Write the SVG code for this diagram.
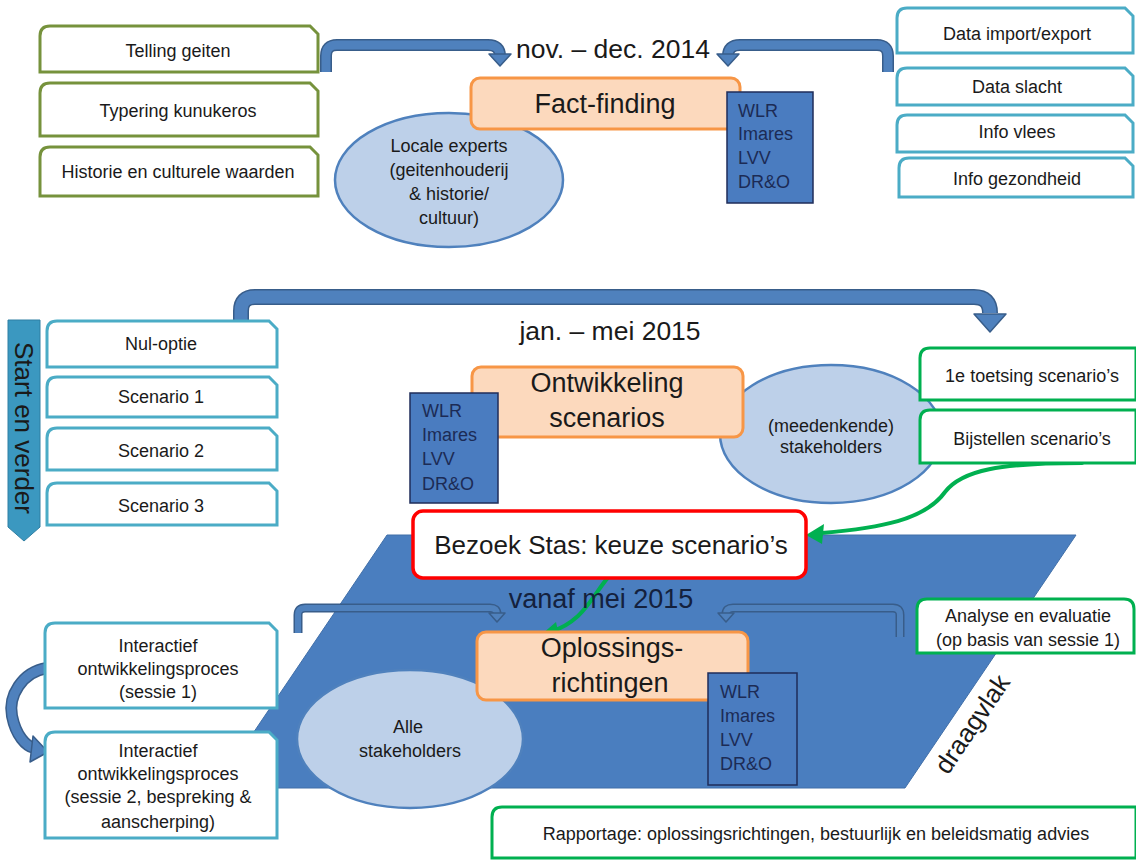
<svg xmlns="http://www.w3.org/2000/svg" width="1136" height="860" viewBox="0 0 1136 860">
<defs>
<style>
text{font-family:"Liberation Sans",Arial,sans-serif;fill:#1a1a1a;}
.s{font-size:18px;text-anchor:middle;}
.big{font-size:27px;text-anchor:middle;}
.date{font-size:26.5px;text-anchor:middle;}
.wlr{font-size:18px;fill:#1c2b55;}
.olive{fill:#fff;stroke:#76923c;stroke-width:3;}
.teal{fill:#fff;stroke:#4bacc6;stroke-width:3;}
.green{fill:#fff;stroke:#00b050;stroke-width:3;}
.orange{fill:#fcd9bd;stroke:#f79646;stroke-width:3;}
.wbox{fill:#4a7cc0;stroke:#1f2d5a;stroke-width:1.5;}
.ell{fill:#bdd0e9;stroke:#4f81bd;stroke-width:2.5;}
.aout{fill:none;stroke:#385d8a;stroke-linejoin:round;}
.ain{fill:none;stroke:#4f81bd;stroke-linejoin:round;}
.head{fill:#4f81bd;stroke:#385d8a;stroke-width:1.5;stroke-linejoin:round;}
.garr{fill:none;stroke:#00b050;stroke-width:4;stroke-linecap:round;}
.ghead{fill:#00b050;}
</style>
</defs>
<rect width="1136" height="860" fill="#ffffff"/>

<g id="draagvlak">
<polygon points="387,535 1076,535 905,788 216,788" fill="#4a7ebf" stroke="#416fa8" stroke-width="1"/>
<text transform="translate(972,724) rotate(-56)" style="font-size:26px;text-anchor:middle;" y="9">draagvlak</text>
</g>

<g id="connectors">
<!-- top-left bent arrow -->
<path class="aout" stroke-width="12" d="M326 72 V56 Q326 45 337 45 H488 Q500 45 500 56"/>
<path class="ain" stroke-width="9" d="M326 72 V56 Q326 45 337 45 H488 Q500 45 500 56"/>
<polygon class="head" points="489,54 511,54 500,66"/>
<!-- top-right bent arrow -->
<path class="aout" stroke-width="12" d="M888 72 V56 Q888 45 877 45 H740 Q728 45 728 56"/>
<path class="ain" stroke-width="9" d="M888 72 V56 Q888 45 877 45 H740 Q728 45 728 56"/>
<polygon class="head" points="717,54 739,54 728,66"/>
<!-- middle big bent arrow -->
<path class="aout" stroke-width="16" d="M241 322 V311 Q241 297 255 297 H974 Q990 297 990 313"/>
<path class="ain" stroke-width="13" d="M241 322 V311 Q241 297 255 297 H974 Q990 297 990 313"/>
<polygon class="head" points="974,314 1006,314 990,332"/>
<!-- brackets in draagvlak -->
<path class="aout" stroke-width="9" d="M298 633 V615 Q298 608 305 608 H490 Q497 608 497 614"/>
<path class="ain" stroke-width="6" stroke="#4a7ebf" d="M298 633 V615 Q298 608 305 608 H490 Q497 608 497 614"/>
<polygon class="head" fill="#4a7ebf" points="489,613 505,613 497,622"/>
<path class="aout" stroke-width="9" d="M900 637 V615 Q900 608 893 608 H733 Q726 608 726 614"/>
<path class="ain" stroke-width="6" d="M900 637 V615 Q900 608 893 608 H733 Q726 608 726 614"/>
<polygon class="head" points="718,613 734,613 726,622"/>
<!-- session arrow -->
<path class="aout" stroke-width="12" d="M47 668 C22 672 8 696 12 716 C16 736 26 746 34 748"/>
<path class="ain" stroke-width="9" d="M47 668 C22 672 8 696 12 716 C16 736 26 746 34 748"/>
<polygon class="head" points="33,736 48,752 30,762"/>
<!-- green arrows -->
<path class="garr" d="M1082 463 C1000 463 962 470 945 492 C925 520 880 528 822 533"/>
<polygon class="ghead" points="806,535 824,524 822,544"/>
<path class="garr" d="M612 573 C600 585 592 603 578 616 C568 625 560 629 552 631"/>
<polygon class="ghead" points="542,634 556,622 560,640"/>
</g>

<g id="start-en-verder">
<polygon points="8,320 40,320 40,527 24,541 8,527" fill="#3b98c0" stroke="#2f7fa3" stroke-width="1"/>
<text transform="translate(24,428) rotate(90)" style="font-size:26px;text-anchor:middle;" y="9">Start en verder</text>
</g>

<g id="telling-geiten"><path class="olive" d="M40 72 V36 Q40 26 50 26 H310 L318 34 V72 Z"/><text class="s" x="178" y="57">Telling geiten</text></g>
<g id="typering"><path class="olive" d="M40 136 V93 Q40 83 50 83 H310 L318 91 V136 Z"/><text class="s" x="178" y="117">Typering kunukeros</text></g>
<g id="historie"><path class="olive" d="M40 196 V157 Q40 147 50 147 H310 L318 155 V196 Z"/><text class="s" x="178" y="178">Historie en culturele waarden</text></g>

<g id="data-import"><path class="teal" d="M897 53 V18 Q897 8 907 8 H1125 L1133 16 V53 Z"/><text class="s" x="1017" y="40">Data import/export</text></g>
<g id="data-slacht"><path class="teal" d="M897 105 V78 Q897 68 907 68 H1125 L1133 76 V105 Z"/><text class="s" x="1017" y="93">Data slacht</text></g>
<g id="info-vlees"><path class="teal" d="M897 152 V125 Q897 115 907 115 H1125 L1133 123 V152 Z"/><text class="s" x="1017" y="138">Info vlees</text></g>
<g id="info-gezondheid"><path class="teal" d="M899 197 V168 Q899 158 909 158 H1125 L1133 166 V197 Z"/><text class="s" x="1017" y="185">Info gezondheid</text></g>

<g id="locale-experts">
<ellipse class="ell" cx="449" cy="180" rx="114" ry="67"/>
<text class="s" x="449" y="152">Locale experts</text>
<text class="s" x="449" y="176">(geitenhouderij</text>
<text class="s" x="449" y="200">&amp; historie/</text>
<text class="s" x="449" y="224">cultuur)</text>
</g>
<g id="nov-dec"><text class="date" x="613" y="58">nov. – dec. 2014</text></g>
<g id="fact-finding"><rect class="orange" x="471" y="78" width="269" height="51" rx="9"/><text class="big" x="605" y="113">Fact-finding</text></g>
<g id="wlr-1">
<rect class="wbox" x="727" y="92" width="86" height="111"/>
<text class="wlr" x="738" y="117">WLR</text><text class="wlr" x="738" y="140">Imares</text><text class="wlr" x="738" y="164">LVV</text><text class="wlr" x="738" y="188">DR&amp;O</text>
</g>

<g id="nul-optie"><path class="teal" d="M47 367 V331 Q47 321 57 321 H269 L277 329 V367 Z"/><text class="s" x="161" y="350">Nul-optie</text></g>
<g id="scenario-1"><path class="teal" d="M47 417 V387 Q47 377 57 377 H269 L277 385 V417 Z"/><text class="s" x="161" y="403">Scenario 1</text></g>
<g id="scenario-2"><path class="teal" stroke-width="2" d="M47 470 V438 Q47 428 57 428 H269 L277 436 V470 Z"/><text class="s" x="161" y="457">Scenario 2</text></g>
<g id="scenario-3"><path class="teal" stroke="#9fd3e0" stroke-width="1.5" d="M47 525 V493 Q47 483 57 483 H269 L277 491 V525 Z"/><text class="s" x="161" y="512">Scenario 3</text></g>

<g id="jan-mei"><text class="date" x="610" y="340">jan. – mei 2015</text></g>
<g id="meedenkende">
<ellipse class="ell" cx="831" cy="434" rx="111" ry="69"/>
<text class="s" x="831" y="432">(meedenkende)</text>
<text class="s" x="831" y="453">stakeholders</text>
</g>
<g id="ontwikkeling"><rect class="orange" x="472" y="367" width="271" height="70" rx="9"/><text class="big" x="607" y="392">Ontwikkeling</text><text class="big" x="607" y="427">scenarios</text></g>
<g id="wlr-2">
<rect class="wbox" x="410" y="393" width="88" height="110"/>
<text class="wlr" x="422" y="417">WLR</text><text class="wlr" x="422" y="441">Imares</text><text class="wlr" x="422" y="465">LVV</text><text class="wlr" x="422" y="490">DR&amp;O</text>
</g>
<g id="toetsing"><path class="green" d="M920 400 V358 Q920 348 930 348 H1136 V400 Z"/><text class="s" x="1032" y="382">1e toetsing scenario’s</text></g>
<g id="bijstellen"><path class="green" d="M920 463 V420 Q920 410 930 410 H1136 V463 Z"/><text class="s" x="1032" y="445">Bijstellen scenario’s</text></g>

<g id="bezoek-stas"><rect x="413" y="511" width="393" height="67" rx="10" fill="#fff" stroke="#ff0000" stroke-width="3.5"/><text style="font-size:26px;text-anchor:middle;" x="611" y="554">Bezoek Stas: keuze scenario’s</text></g>

<g id="vanaf-mei"><text style="font-size:27px;text-anchor:middle;fill:#14213d;" x="601" y="608">vanaf mei 2015</text></g>
<g id="alle-stakeholders">
<ellipse class="ell" fill="#c9daf0" cx="410" cy="739" rx="113" ry="69"/>
<text class="s" x="408" y="733">Alle</text>
<text class="s" x="410" y="757">stakeholders</text>
</g>
<g id="oplossingsrichtingen"><rect class="orange" x="477" y="632" width="271" height="68" rx="9"/><text class="big" x="612" y="657">Oplossings-</text><text class="big" x="610" y="692">richtingen</text></g>
<g id="wlr-3">
<rect class="wbox" x="708" y="673" width="89" height="112"/>
<text class="wlr" x="720" y="698">WLR</text><text class="wlr" x="720" y="722">Imares</text><text class="wlr" x="720" y="746">LVV</text><text class="wlr" x="720" y="770">DR&amp;O</text>
</g>
<g id="analyse"><path class="green" d="M917 653 V609 Q917 599 927 599 H1124 Q1134 599 1134 609 V653 Z"/><text class="s" x="1028" y="622">Analyse en evaluatie</text><text class="s" x="1028" y="646">(op basis  van sessie 1)</text></g>

<g id="sessie-1"><path class="teal" d="M45 708 V633 Q45 623 55 623 H269 L277 631 V708 Z"/><text class="s" x="158" y="652">Interactief</text><text class="s" x="158" y="675">ontwikkelingsproces</text><text class="s" x="158" y="698">(sessie 1)</text></g>
<g id="sessie-2"><path class="teal" d="M45 838 V742 Q45 732 55 732 H269 L277 740 V838 Z"/><text class="s" x="158" y="757">Interactief</text><text class="s" x="158" y="780">ontwikkelingsproces</text><text class="s" x="158" y="803">(sessie 2, bespreking &amp;</text><text class="s" x="158" y="828">aanscherping)</text></g>

<g id="rapportage"><path class="green" d="M492 858 V817 Q492 807 502 807 H1136 V858 Z"/><text class="s" x="816" y="840">Rapportage: oplossingsrichtingen, bestuurlijk en beleidsmatig advies</text></g>
</svg>
